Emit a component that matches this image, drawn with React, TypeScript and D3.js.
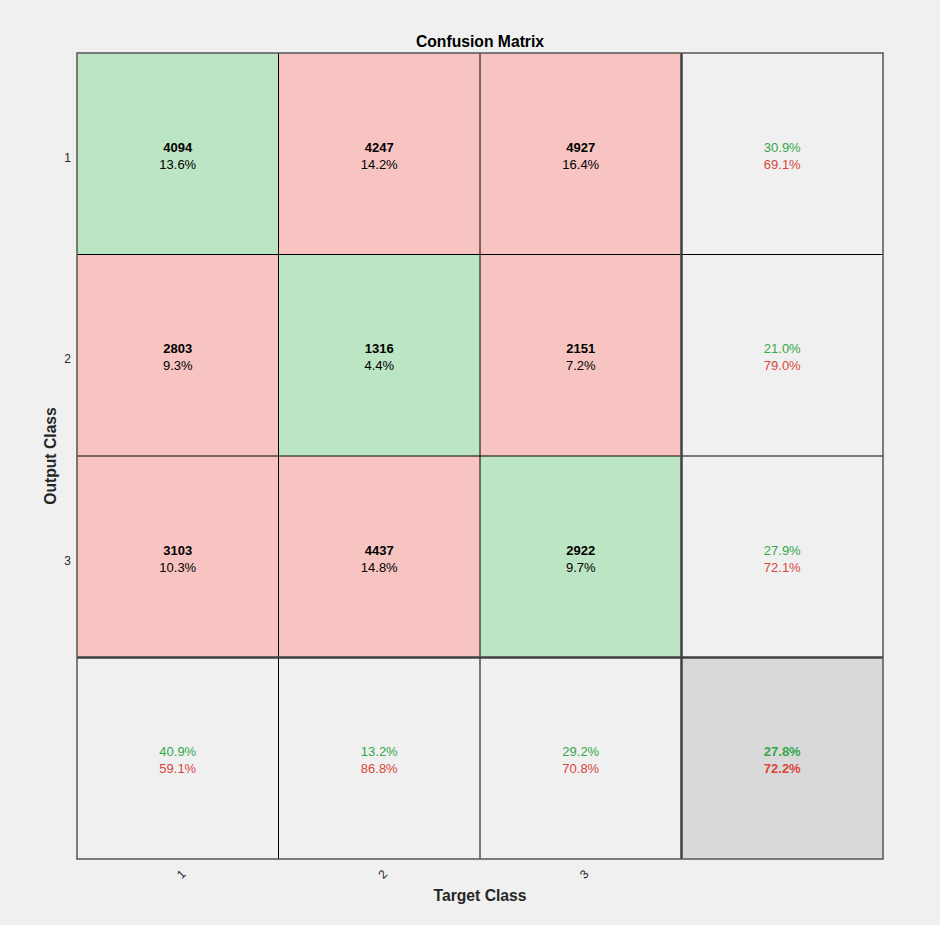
import React from 'react';
import * as d3 from 'd3';

const classes = ['1', '2', '3'];
const counts = [
  [4094, 4247, 4927],
  [2803, 1316, 2151],
  [3103, 4437, 2922],
];
const cellPct = [
  [13.6, 14.2, 16.4],
  [9.3, 4.4, 7.2],
  [10.3, 14.8, 9.7],
];
const rowCorrect = [30.9, 21.0, 27.9];
const rowWrong = [69.1, 79.0, 72.1];
const colCorrect = [40.9, 13.2, 29.2];
const colWrong = [59.1, 86.8, 70.8];
const overall = [27.8, 72.2];

const W = 940, H = 925;
const L = 77, R = 883, T = 53, B = 859;
const GREEN_FILL = '#bce5c4';
const RED_FILL = '#f7c4c1';
const GRAY_FILL = '#f0f0f0';
const DARK_FILL = '#d9d9d9';
const GREEN_TXT = '#33a84b';
const RED_TXT = '#d9463b';
const FONT = 'Liberation Sans, Arial, sans-serif';

export default function App() {
  const keys = [...classes, 'all'];
  const x = d3.scaleBand<string>().domain(keys).range([L, R]);
  const y = d3.scaleBand<string>().domain(keys).range([T, B]);
  const bw = x.bandwidth();
  const bh = y.bandwidth();
  const fmt = (v: number) => v.toFixed(1) + '%';

  const cells: React.ReactNode[] = [];
  classes.forEach((rk, i) => {
    classes.forEach((ck, j) => {
      const cx = x(ck)! + bw / 2;
      const cy = y(rk)! + bh / 2;
      cells.push(
        <g key={`c${i}${j}`}>
          <rect x={x(ck)} y={y(rk)} width={bw} height={bh} fill={i === j ? GREEN_FILL : RED_FILL} />
          <text x={cx} y={cy - 2} textAnchor="middle" fontWeight="bold" fontSize={13} fill="#000">{counts[i][j]}</text>
          <text x={cx} y={cy + 15} textAnchor="middle" fontSize={13} fill="#000">{fmt(cellPct[i][j])}</text>
        </g>
      );
    });
  });
  classes.forEach((rk, i) => {
    const cx = x('all')! + bw / 2;
    const cy = y(rk)! + bh / 2;
    cells.push(
      <g key={`r${i}`}>
        <rect x={x('all')} y={y(rk)} width={bw} height={bh} fill={GRAY_FILL} />
        <text x={cx} y={cy - 2} textAnchor="middle" fontSize={13} fill={GREEN_TXT}>{fmt(rowCorrect[i])}</text>
        <text x={cx} y={cy + 15} textAnchor="middle" fontSize={13} fill={RED_TXT}>{fmt(rowWrong[i])}</text>
      </g>
    );
  });
  classes.forEach((ck, j) => {
    const cx = x(ck)! + bw / 2;
    const cy = y('all')! + bh / 2;
    cells.push(
      <g key={`b${j}`}>
        <rect x={x(ck)} y={y('all')} width={bw} height={bh} fill={GRAY_FILL} />
        <text x={cx} y={cy - 2} textAnchor="middle" fontSize={13} fill={GREEN_TXT}>{fmt(colCorrect[j])}</text>
        <text x={cx} y={cy + 15} textAnchor="middle" fontSize={13} fill={RED_TXT}>{fmt(colWrong[j])}</text>
      </g>
    );
  });
  {
    const cx = x('all')! + bw / 2;
    const cy = y('all')! + bh / 2;
    cells.push(
      <g key="all">
        <rect x={x('all')} y={y('all')} width={bw} height={bh} fill={DARK_FILL} />
        <text x={cx} y={cy - 2} textAnchor="middle" fontWeight="bold" fontSize={13} fill={GREEN_TXT}>{fmt(overall[0])}</text>
        <text x={cx} y={cy + 15} textAnchor="middle" fontWeight="bold" fontSize={13} fill={RED_TXT}>{fmt(overall[1])}</text>
      </g>
    );
  }

  const innerV = classes.slice(1).map((k) => x(k)!);
  const innerH = classes.slice(1).map((k) => y(k)!);

  return (
    <svg width={W} height={H} style={{ position: 'absolute', left: 0, top: 0, fontFamily: FONT }}>
      <rect x={0} y={0} width={W} height={H} fill="#f0f0f0" />
      {cells}
      {innerV.map((vx, i) => (
        <line key={`v${i}`} x1={vx} x2={vx} y1={T} y2={B} stroke="#000" strokeWidth={1} />
      ))}
      {innerH.map((hy, i) => (
        <line key={`h${i}`} x1={L} x2={R} y1={hy} y2={hy} stroke="#000" strokeWidth={1} />
      ))}
      <line x1={x('all')} x2={x('all')} y1={T} y2={B} stroke="#404040" strokeWidth={2.5} />
      <line x1={L} x2={R} y1={y('all')} y2={y('all')} stroke="#404040" strokeWidth={2.5} />
      <rect x={L} y={T} width={R - L} height={B - T} fill="none" stroke="#555" strokeWidth={1.5} />
      {classes.map((k) => (
        <text key={`yt${k}`} x={71} y={y(k)! + bh / 2 + 8} textAnchor="end" fontSize={12} fill="#262626">{k}</text>
      ))}
      {classes.map((k) => (
        <text key={`xt${k}`} transform={`translate(${x(k)! + bw / 2 + 4},${875}) rotate(-45)`} textAnchor="middle" dominantBaseline="middle" fontSize={12} fill="#262626">{k}</text>
      ))}
      <text x={(L + R) / 2} y={47} textAnchor="middle" fontWeight="bold" fontSize={15.7} fill="#000">Confusion Matrix</text>
      <text x={(L + R) / 2} y={901} textAnchor="middle" fontWeight="bold" fontSize={15.7} fill="#262626">Target Class</text>
      <text transform={`translate(56,${(T + B) / 2}) rotate(-90)`} textAnchor="middle" fontWeight="bold" fontSize={15.7} fill="#262626">Output Class</text>
    </svg>
  );
}
